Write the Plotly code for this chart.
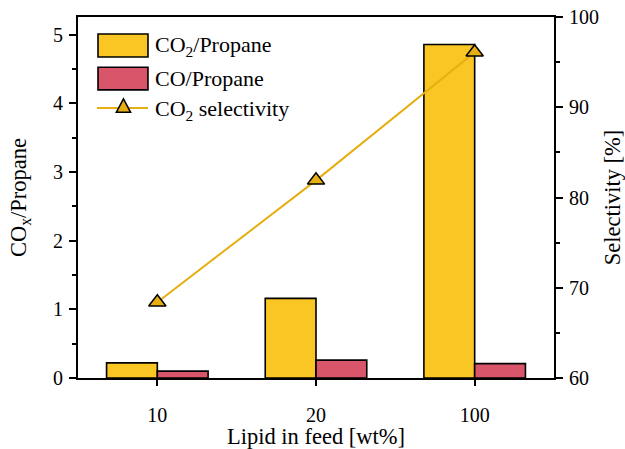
import plotly.graph_objects as go

categories = ["10", "20", "100"]
co2_propane = [0.22, 1.16, 4.86]
co_propane = [0.10, 0.26, 0.21]
co2_selectivity = [68.4, 81.9, 96.1]

FONT = "Liberation Serif"
TICK = 20
TITLE = 22.5
LEG = 22
C_CO2 = "#F9C623"
C_CO = "#D9566A"
C_LINE = "#E6AE10"

fig = go.Figure()
fig.add_trace(go.Bar(x=categories, y=co2_propane, name="CO<sub>2</sub>/Propane",
                     marker=dict(color=C_CO2, line=dict(color="black", width=1.6)),
                     showlegend=False))
fig.add_trace(go.Bar(x=categories, y=co_propane, name="CO/Propane",
                     marker=dict(color=C_CO, line=dict(color="black", width=1.6)),
                     showlegend=False))
fig.add_trace(go.Scatter(x=categories, y=co2_selectivity, yaxis="y2", name="CO<sub>2</sub> selectivity",
                         mode="lines+markers",
                         line=dict(color=C_LINE, width=2),
                         marker=dict(symbol="triangle-up", size=15, color=C_LINE,
                                     line=dict(color="black", width=1.5)),
                         showlegend=False))

# custom legend (paper coordinates)
shapes = [
    dict(type="rect", xref="paper", yref="paper", x0=0.042, x1=0.147, y0=0.889, y1=0.953,
         fillcolor=C_CO2, line=dict(color="black", width=1.6)),
    dict(type="rect", xref="paper", yref="paper", x0=0.042, x1=0.147, y0=0.798, y1=0.861,
         fillcolor=C_CO, line=dict(color="black", width=1.6)),
    dict(type="line", xref="paper", yref="paper", x0=0.040, x1=0.147, y0=0.748, y1=0.748,
         line=dict(color=C_LINE, width=2)),
    dict(type="path", xref="paper", yref="paper",
         path="M 0.0805 0.736 L 0.1105 0.736 L 0.0955 0.773 Z",
         fillcolor=C_LINE, line=dict(color="black", width=1.5)),
]
legend_font = dict(family=FONT, size=LEG, color="black")
annotations = [
    dict(xref="paper", yref="paper", x=0.158, y=0.919, xanchor="left", yanchor="middle",
         text="CO<sub>2</sub>/Propane", showarrow=False, font=legend_font),
    dict(xref="paper", yref="paper", x=0.158, y=0.829, xanchor="left", yanchor="middle",
         text="CO/Propane", showarrow=False, font=legend_font),
    dict(xref="paper", yref="paper", x=0.158, y=0.743, xanchor="left", yanchor="middle",
         text="CO<sub>2</sub> selectivity", showarrow=False, font=legend_font),
]

fig.update_layout(
    width=625, height=449,
    margin=dict(l=78, r=71, t=17, b=71),
    paper_bgcolor="white", plot_bgcolor="white",
    font=dict(family=FONT, size=TICK, color="black"),
    barmode="group", bargap=0.36, bargroupgap=0,
    shapes=shapes, annotations=annotations,
    xaxis=dict(type="category", range=[-0.5, 2.5], showline=True, linecolor="black", linewidth=2,
               mirror=True, ticks="outside", ticklen=6, tickwidth=1.5, tickcolor="black",
               ticklabelstandoff=12, showgrid=False, zeroline=False, automargin=False,
               tickfont=dict(family=FONT, size=TICK),
               title=dict(text="Lipid in feed [wt%]", font=dict(family=FONT, size=TITLE), standoff=8)),
    yaxis=dict(range=[0, 5.26], dtick=1, showline=True, linecolor="black", linewidth=2,
               ticks="outside", ticklen=7, tickwidth=1.5, tickcolor="black",
               minor=dict(dtick=0.5, ticks="outside", ticklen=4, tickwidth=1.5, tickcolor="black"),
               showgrid=False, zeroline=False, ticklabelstandoff=2, automargin=False,
               tickfont=dict(family=FONT, size=TICK),
               title=dict(text="CO<sub>x</sub>/Propane", font=dict(family=FONT, size=TITLE), standoff=20)),
    yaxis2=dict(range=[60, 100], dtick=10, overlaying="y", side="right", showline=True,
                linecolor="black", linewidth=2,
                ticks="outside", ticklen=7, tickwidth=1.5, tickcolor="black",
                minor=dict(dtick=5, ticks="outside", ticklen=4, tickwidth=1.5, tickcolor="black"),
                showgrid=False, zeroline=False, ticklabelstandoff=2, automargin=False,
                tickfont=dict(family=FONT, size=TICK),
                title=dict(text="Selectivity [%]", font=dict(family=FONT, size=TITLE), standoff=6)),
)

fig.write_html("out.html")
